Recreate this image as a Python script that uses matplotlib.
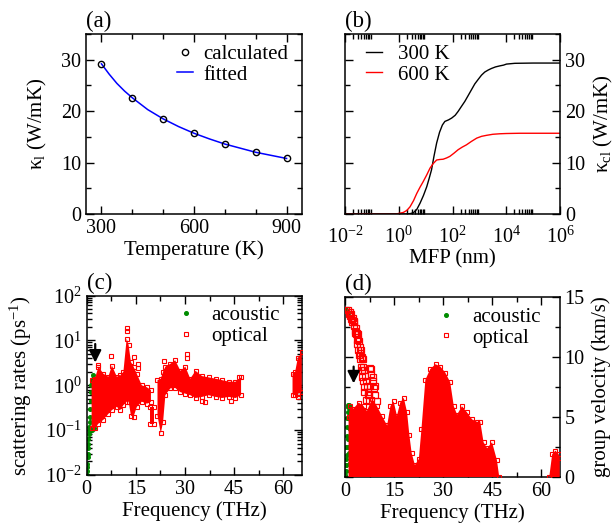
import numpy as np
import matplotlib
matplotlib.use('Agg')
import matplotlib.pyplot as plt
from matplotlib.ticker import MultipleLocator, FixedLocator, LogLocator, LogFormatterMathtext, NullFormatter
from matplotlib.lines import Line2D

plt.rcParams['font.family'] = ['Liberation Serif', 'DejaVu Serif']
plt.rcParams['mathtext.fontset'] = 'custom'
plt.rcParams['mathtext.rm'] = 'Liberation Serif'
plt.rcParams['mathtext.it'] = 'Liberation Serif:italic'
plt.rcParams['mathtext.bf'] = 'Liberation Serif:bold'

nan = np.nan

# ---------------- (a) lattice thermal conductivity vs temperature
temp_calc = [300, 400, 500, 600, 700, 800, 900]
kappa_calc = [29.2, 22.6, 18.5, 15.7, 13.6, 12.0, 10.8]
temp_fit = [300, 325, 350, 375, 400, 450, 500, 550, 600, 650, 700, 750, 800, 850, 900]
kappa_fit = [29.2, 27.2, 25.4, 23.9, 22.6, 20.3, 18.5, 17.0, 15.7, 14.6, 13.6, 12.8, 12.0, 11.4, 10.8]

# ---------------- (b) cumulative kappa vs MFP
mfp_300 = [0.01, 2.0, 2.8, 3.5, 4.7, 6.2, 8.3, 11, 13.5, 16.6, 20.4, 25.7, 33, 42, 52, 71, 93,
           126, 162, 214, 288, 380, 513, 676, 912, 1200, 1585, 2140, 2820, 3980, 5750, 7940,
           10200, 20900, 1e5, 1e6]
kcum_300 = [0, 0, 0.1, 0.25, 0.9, 2.1, 3.6, 5.3, 6.9, 8.6, 11.2, 13.8, 15.9, 17.3, 18.0, 18.3, 18.65,
            19.2, 19.95, 20.9, 21.9, 23.0, 24.2, 25.3, 26.2, 27.0, 27.6, 28.0, 28.3, 28.6, 28.8, 28.95,
            29.15, 29.3, 29.35, 29.35]
mfp_600 = [0.01, 0.79, 1.48, 2.0, 2.63, 3.55, 4.68, 6.17, 8.13, 11.0, 14.5, 19.1, 25.7, 33.9, 44.7,
           60.3, 79.4, 112, 162, 229, 331, 501, 794, 1200, 1860, 3160, 5750, 1e4, 31600, 1e6]
kcum_600 = [0, 0, 0.3, 0.7, 1.4, 2.6, 4.0, 5.2, 6.3, 7.6, 8.9, 9.8, 10.5, 10.6, 10.65,
            10.9, 11.2, 11.8, 12.5, 13.0, 13.45, 14.1, 14.75, 15.1, 15.3, 15.5, 15.6, 15.65, 15.7, 15.7]

# ---------------- (c) scattering rates
ac_c_freq = [0.05, 0.1, 0.15, 0.2, 0.25, 0.3, 0.35, 0.4, 0.5, 0.6, 0.7, 0.8, 0.9, 1.0, 1.1,
             1.2, 1.3, 1.4, 1.5, 1.6, 1.8, 2.0, 1.8, 1.5, 1.8, 2.1]
ac_c_rate = [0.01, 0.012, 0.015, 0.018, 0.025, 0.03, 0.04, 0.05, 0.065, 0.08, 0.1, 0.12, 0.15, 0.2, 0.3,
             0.45, 0.7, 1.0, 1.2, 1.3, 1.35, 1.4, 1.7, 0.1, 0.12, 0.11]
op_c_freq = [1.5, 2.5, 3.6, 5.1, 6.6, 7.7, 9.2, 10.2, 11.2, 12.2, 12.8, 13.5, 14.3, 15.3, 16.8, 18.4, 19.6,
             nan, 19.3, 20.5, nan,
             21.6, 22.6, 23.3, 24.0, 25.5, 27.0, 28.6, 30.1, 31.6, 33.2, 35.2, 37.2, 39.3, 41.3, 43.4, 45.4, 47.1,
             nan, 62.8, 63.6, 64.4, 65.6]
op_c_low = [0.11, 0.11, 0.14, 0.17, 0.23, 0.28, 0.33, 0.28, 0.36, 0.43, 0.43, 0.21, 0.2, 0.33, 0.43, 0.39, 0.43,
            nan, 0.14, 0.14, nan,
            0.21, 0.085, 0.15, 0.6, 0.85, 0.87, 0.7, 0.65, 0.6, 0.52, 0.55, 0.6, 0.55, 0.52, 0.55, 0.52, 0.6,
            nan, 0.62, 0.6, 0.65, 0.7]
op_c_high = [1.29, 1.4, 2.6, 1.8, 1.55, 2.75, 1.55, 1.65, 2.0, 11.0, 7.8, 3.3, 2.6, 1.8, 1.0, 0.9, 0.78,
             nan, 0.33, 0.33, nan,
             1.3, 1.4, 2.0, 2.6, 3.0, 3.6, 2.1, 2.6, 1.4, 2.1, 1.6, 1.5, 1.4, 1.3, 1.2, 1.2, 1.5,
             nan, 1.8, 2.0, 4.0, 5.5]
op_c_out_freq = [12.4, 12.4, 7.4, 14.3, 15.6, 15.6, 30.6, 30.6, 23.7, 35.2, 36.2, 43.9, 46.4, 64.5, 3.4]
op_c_out_rate = [19.0, 16.0, 4.5, 4.3, 2.9, 2.4, 5.0, 4.0, 3.5, 0.45, 0.42, 0.45, 1.5, 0.55, 2.8]

# ---------------- (d) group velocity
ac_d_freq = [0.1, 0.3, 0.6, 0.9, 0.05, 0.1, 0.15, 0.2, 0.3, 0.4, 0.5, 0.6, 0.7, 0.8, 0.9, 1.0, 1.1,
             1.2, 1.3, 1.4, 0.3, 0.5, 0.7, 0.9, 1.1, 1.3, 1.5]
ac_d_vel = [13.9, 13.95, 13.85, 13.7, 0.2, 0.5, 1.0, 1.5, 2.5, 3.4, 4.2, 4.9, 5.4, 5.8, 6.0, 6.0, 5.8,
            5.4, 4.8, 4.0, 1.0, 1.8, 2.5, 3.2, 2.0, 1.2, 0.5]
op_d_freq = [1.0, 1.5, 2.5, 4.1, 5.6, 6.6, 8.2, 9.7, 11.2, 12.8, 13.8, 14.8, 15.8, 16.8, 17.9, 18.9, 19.6,
             20.3, 21.3, 22.5, 23.3, 24.5, 26.0, 27.6, 29.1, 30.6, 32.1, 33.2, 34.2, 35.7, 37.2, 38.8, 40.3,
             41.3, 42.3, 43.4, 44.9, 46.4, 47.1, nan, 62.4, 63.3, 64.3, 65.3, 65.6]
op_d_vel = [5.0, 5.9, 5.7, 6.2, 5.9, 5.5, 6.5, 5.9, 5.1, 4.3, 5.9, 6.3, 5.1, 6.2, 6.6, 5.4, 3.5,
            2.0, 1.0, 1.5, 4.0, 8.1, 9.0, 9.4, 9.2, 8.7, 7.9, 5.9, 5.2, 5.9, 5.4, 4.8, 4.6,
            4.6, 2.9, 2.4, 2.9, 1.4, 0.0, nan, 0.0, 1.9, 2.2, 1.9, 1.6]
op_d_branch_freq = [0.3, 0.8, 1.3, 1.8, 2.3, 2.8, 3.3, 3.8, 4.3, 4.8, 5.3, 5.8, 6.3, 6.8, 7.2,
                    1.5, 2.2, 2.9, 3.5, 4.0, 4.5, 5.0, 5.4, 5.8, 6.2,
                    4.2, 4.7, 5.2, 5.6,
                    2.0, 2.6, 3.2, 3.7, 4.4, 5.0, 5.5, 6.0, 6.5, 7.0,
                    1.0, 1.6, 2.6, 3.0, 3.5, 4.0, 4.6, 5.1,
                    7.6, 8.0, 8.4, 8.8, 9.2, 9.6, 7.9, 8.6, 9.0, 7.3, 7.7]
op_d_branch_vel = [13.95, 13.9, 13.75, 13.55, 13.25, 12.9, 12.45, 11.9, 11.3, 10.6, 9.8, 8.9, 8.0, 7.1, 6.3,
                   13.4, 12.9, 12.2, 11.4, 10.6, 9.8, 8.9, 8.0, 7.1, 6.4,
                   10.2, 9.2, 8.3, 7.5,
                   13.1, 12.6, 11.9, 11.1, 10.3, 10.0, 9.2, 8.4, 7.6, 6.8,
                   13.6, 13.2, 13.0, 12.0, 12.0, 11.5, 10.8, 9.9,
                   9.1, 8.6, 8.0, 7.4, 6.8, 6.3, 9.0, 8.3, 7.6, 6.9, 7.6]

arrow_c = [2.6, 8.3, 3.2]   # freq, tail, tip
arrow_d = [2.55, 9.2, 7.8]

GREEN = '#008c00'
RED = '#ff0000'
W, H = 616, 526
TICK_FS = 14.5
LAB_FS = 15
LEG_FS = 15

fig = plt.figure(figsize=(W / 100, H / 100), dpi=100)

def add_ax(l, r, t, b):
    return fig.add_axes([l / W, 1 - b / H, (r - l) / W, (b - t) / H])

def style(ax):
    ax.tick_params(which='both', direction='in', top=True, bottom=True, left=True, right=True,
                   labelsize=TICK_FS, width=1.0)
    ax.tick_params(which='major', length=6)
    ax.tick_params(which='minor', length=3.5)
    for s in ax.spines.values():
        s.set_linewidth(1.1)

axa = add_ax(86, 302, 34, 214)
axb = add_ax(345, 560, 34, 214)
axc = add_ax(86.7, 301.7, 295.5, 475)
axd = add_ax(345.3, 559.7, 297, 477)

# (a)
axa.plot(temp_fit, kappa_fit, color='blue', lw=1.1)
axa.plot(temp_calc, kappa_calc, ls='none', marker='o', ms=4.5, mfc='none', mec='black', mew=1.0)
axa.set_xlim(250, 950)
axa.set_ylim(0, 35)
axa.xaxis.set_major_locator(FixedLocator([300, 600, 900]))
axa.xaxis.set_minor_locator(MultipleLocator(100))
axa.yaxis.set_major_locator(MultipleLocator(10))
axa.yaxis.set_minor_locator(MultipleLocator(5))
style(axa)
axa.set_xlabel('Temperature (K)', fontsize=LAB_FS, labelpad=2)
axa.set_ylabel('κ$_{\\rm l}$ (W/mK)', fontsize=LAB_FS, labelpad=9)
ha = [Line2D([], [], ls='none', marker='o', ms=4.5, mfc='none', mec='black', mew=1.0),
      Line2D([], [], color='blue', lw=1.1)]
axa.legend(ha, ['calculated', 'fitted'], loc='upper right', bbox_to_anchor=(0.985, 1.0), frameon=False,
           fontsize=LEG_FS, handlelength=0.75, handletextpad=0.5, labelspacing=0.05, borderaxespad=0.1)
axa.text(0.0, 1.01, '(a)', transform=axa.transAxes, fontsize=16.5, ha='left', va='bottom')

# (b)
axb.plot(mfp_300, kcum_300, color='black', lw=1.0, label='300 K')
axb.plot(mfp_600, kcum_600, color=RED, lw=1.0, label='600 K')
axb.set_xscale('log')
axb.set_xlim(1e-2, 1e6)
axb.set_ylim(0, 35)
axb.xaxis.set_major_locator(FixedLocator([1e-2, 1e0, 1e2, 1e4, 1e6]))
axb.xaxis.set_major_formatter(LogFormatterMathtext())
minor_b = [k * 10.0 ** n for n in (-2, 0, 2, 4) for k in range(2, 10)]
axb.xaxis.set_minor_locator(FixedLocator(minor_b))
axb.xaxis.set_minor_formatter(NullFormatter())
axb.yaxis.set_major_locator(MultipleLocator(10))
axb.yaxis.set_minor_locator(MultipleLocator(5))
style(axb)
axb.tick_params(axis='x', pad=9)
axb.tick_params(labelleft=False, labelright=True)
axb.yaxis.set_label_position('right')
axb.set_xlabel('MFP (nm)', fontsize=LAB_FS, labelpad=1)
axb.set_ylabel('κ$_{\\rm cl}$ (W/mK)', fontsize=LAB_FS, labelpad=5)
axb.legend(loc='upper left', bbox_to_anchor=(0.05, 1.0), frameon=False, fontsize=LEG_FS,
           handlelength=0.75, handletextpad=0.8, labelspacing=0.05, borderaxespad=0.1)
axb.text(0.0, 1.01, '(b)', transform=axb.transAxes, fontsize=16.5, ha='left', va='bottom')

# (c)
axc.plot(ac_c_freq, ac_c_rate, ls='none', marker='o', ms=2.6, color=GREEN, zorder=2)
axc.fill_between(op_c_freq, op_c_low, op_c_high, color=RED, lw=0, zorder=3)
axc.plot(op_c_freq, op_c_high, ls='none', marker='s', ms=3.5, mfc='none', mec=RED, mew=0.8, zorder=3)
axc.plot(op_c_freq, op_c_low, ls='none', marker='s', ms=3.5, mfc='none', mec=RED, mew=0.8, zorder=3)
axc.plot(op_c_out_freq, op_c_out_rate, ls='none', marker='s', ms=3.5, mfc='none', mec=RED, mew=0.8, zorder=3)
axc.set_yscale('log')
axc.set_xlim(0, 65.6)
axc.set_ylim(1e-2, 1e2)
axc.xaxis.set_major_locator(MultipleLocator(15))
axc.xaxis.set_minor_locator(MultipleLocator(7.5))
axc.yaxis.set_major_locator(LogLocator(base=10, numticks=10))
axc.yaxis.set_major_formatter(LogFormatterMathtext())
axc.yaxis.set_minor_locator(LogLocator(base=10, subs=np.arange(2, 10), numticks=20))
axc.yaxis.set_minor_formatter(NullFormatter())
style(axc)
axc.set_xlabel('Frequency (THz)', fontsize=LAB_FS, labelpad=2)
axc.set_ylabel('scattering rates (ps$^{-1}$)', fontsize=LAB_FS, labelpad=8)
axc.annotate('', xy=(arrow_c[0], arrow_c[2]), xytext=(arrow_c[0], arrow_c[1]),
             arrowprops=dict(arrowstyle='-|>', color='black', lw=1.6, mutation_scale=18,
                             shrinkA=0, shrinkB=0), zorder=5)
hc = [Line2D([], [], ls='none', marker='o', ms=2.6, color=GREEN),
      Line2D([], [], ls='none', marker='s', ms=3.5, mfc='none', mec=RED, mew=0.8)]
axc.legend(hc, ['acoustic', 'optical'], loc='upper right', bbox_to_anchor=(0.945, 1.0), frameon=False,
           fontsize=LEG_FS, handlelength=0.75, handletextpad=0.8, labelspacing=0.05, borderaxespad=0.1)
axc.text(0.0, 1.01, '(c)', transform=axc.transAxes, fontsize=16.5, ha='left', va='bottom')

# (d)
axd.plot(ac_d_freq, ac_d_vel, ls='none', marker='o', ms=2.6, color=GREEN, zorder=2)
axd.fill_between(op_d_freq, 0, op_d_vel, color=RED, lw=0, zorder=3)
axd.plot(op_d_freq, op_d_vel, ls='none', marker='s', ms=3.5, mfc='none', mec=RED, mew=0.8, zorder=3)
axd.plot(op_d_branch_freq, op_d_branch_vel, ls='none', marker='s', ms=3.8, mfc='none', mec=RED,
         mew=0.9, zorder=3)
axd.set_xlim(0, 65.6)
axd.set_ylim(0, 15)
axd.xaxis.set_major_locator(MultipleLocator(15))
axd.xaxis.set_minor_locator(MultipleLocator(7.5))
axd.yaxis.set_major_locator(MultipleLocator(5))
axd.yaxis.set_minor_locator(MultipleLocator(2.5))
style(axd)
axd.tick_params(labelleft=False, labelright=True)
axd.yaxis.set_label_position('right')
axd.set_xlabel('Frequency (THz)', fontsize=LAB_FS, labelpad=2)
axd.set_ylabel('group velocity (km/s)', fontsize=LAB_FS, labelpad=5)
axd.annotate('', xy=(arrow_d[0], arrow_d[2]), xytext=(arrow_d[0], arrow_d[1]),
             arrowprops=dict(arrowstyle='-|>', color='black', lw=1.6, mutation_scale=18,
                             shrinkA=0, shrinkB=0), zorder=5)
axd.legend(hc, ['acoustic', 'optical'], loc='upper right', bbox_to_anchor=(0.96, 1.0), frameon=False,
           fontsize=LEG_FS, handlelength=0.75, handletextpad=0.9, labelspacing=0.05, borderaxespad=0.1)
axd.text(0.0, 1.01, '(d)', transform=axd.transAxes, fontsize=16.5, ha='left', va='bottom')

fig.savefig('out.png', dpi=100)
